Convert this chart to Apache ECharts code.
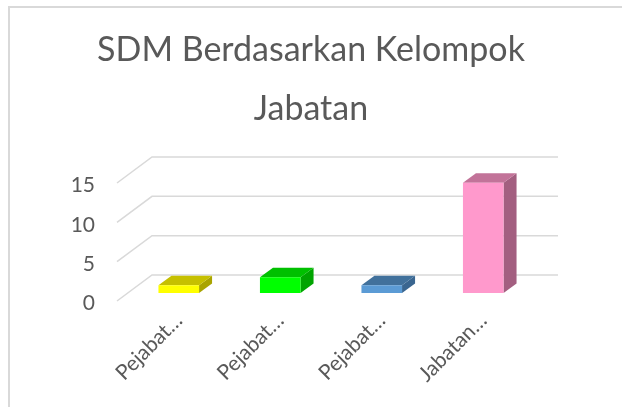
<!DOCTYPE html>
<html>
<head>
<meta charset="utf-8">
<script src="https://cdn.jsdelivr.net/npm/echarts@6/dist/echarts.min.js"></script>
<style>
  html, body { margin: 0; padding: 0; background: #fff; }
  #chart { width: 622px; height: 407px; }
</style>
</head>
<body>
<div id="chart"></div>
<script>
// data
const categories = ['Pejabat…', 'Pejabat…', 'Pejabat…', 'Jabatan…']
const values = [1, 2, 1, 14]
const yTicks = [0, 5, 10, 15]

// front / top / side shades per bar
const faceColors = ['#FFFF00', '#00FF00', '#5B9BD5', '#FF99CC']
const topColors = ['#C6C000', '#00C000', '#41719C', '#C27399']
const sideColors = ['#A9A400', '#00A400', '#3A6690', '#A35F80']

const textColor = '#595959'
const gridColor = '#d9d9d9'
const font = 'Lato'

const chart = echarts.init(document.getElementById('chart'))

// back wall + floor slant lines for every tick
const renderGrid = (params, api) => {
  const cs = params.coordSys
  const y = api.coord([0, api.value(0)])[1]
  return {
    type: 'polyline',
    shape: { points: [[cs.x - 11, y + 8], [cs.x + 24, y - 18], [cs.x + cs.width + 24, y - 18]] },
    style: { stroke: gridColor, lineWidth: 1.5, fill: null }
  }
}

// bar with front, top and side face
const renderBar = (params, api) => {
  const i = api.value(0)
  const base = api.coord([i, 0])
  const top = api.coord([i, api.value(1)])
  const w = api.size([1, 0])[0] * 0.4
  const dx = 13, dy = -9.5
  const x = base[0] - w / 2
  return {
    type: 'group',
    children: [
      { type: 'polygon', shape: { points: [[x + w, top[1]], [x + w + dx, top[1] + dy], [x + w + dx, base[1] + dy], [x + w, base[1]]] }, style: { fill: sideColors[i] } },
      { type: 'polygon', shape: { points: [[x, top[1]], [x + w, top[1]], [x + w + dx, top[1] + dy], [x + dx, top[1] + dy]] }, style: { fill: topColors[i] } },
      { type: 'rect', shape: { x: x, y: top[1], width: w, height: base[1] - top[1] }, style: { fill: faceColors[i] } }
    ]
  }
}

const option = {
  backgroundColor: '#fff',
  animation: false,
  textStyle: { fontFamily: font, color: textColor },
  title: {
    text: 'SDM Berdasarkan Kelompok\nJabatan',
    left: 'center',
    top: 16,
    textStyle: { fontFamily: font, fontSize: 34, fontWeight: 'normal', color: textColor, lineHeight: 59 }
  },
  graphic: [
    { type: 'polyline', shape: { points: [[9, 407], [9, 7], [622, 7]] }, style: { stroke: gridColor, lineWidth: 2, fill: null } }
  ],
  grid: { left: 128, top: 175, width: 406, height: 118 },
  xAxis: {
    type: 'category',
    data: categories,
    axisLine: { show: false },
    axisTick: { show: false },
    axisLabel: { rotate: 45, margin: 24, fontSize: 21, color: textColor, fontFamily: font, interval: 0 }
  },
  yAxis: {
    type: 'value',
    min: 0,
    max: 15,
    interval: 5,
    axisLine: { show: false },
    axisTick: { show: false },
    splitLine: { show: false },
    axisLabel: { margin: 33, fontSize: 21, color: textColor, fontFamily: font, verticalAlign: 'top' }
  },
  series: [
    {
      type: 'custom',
      renderItem: renderGrid,
      data: yTicks.map(v => [v]),
      encode: { y: 0 },
      silent: true,
      z: 1
    },
    {
      type: 'custom',
      renderItem: renderBar,
      data: values.map((v, i) => [i, v]),
      encode: { x: 0, y: 1 },
      clip: false,
      z: 2
    }
  ]
}

chart.setOption(option)
</script>
</body>
</html>
